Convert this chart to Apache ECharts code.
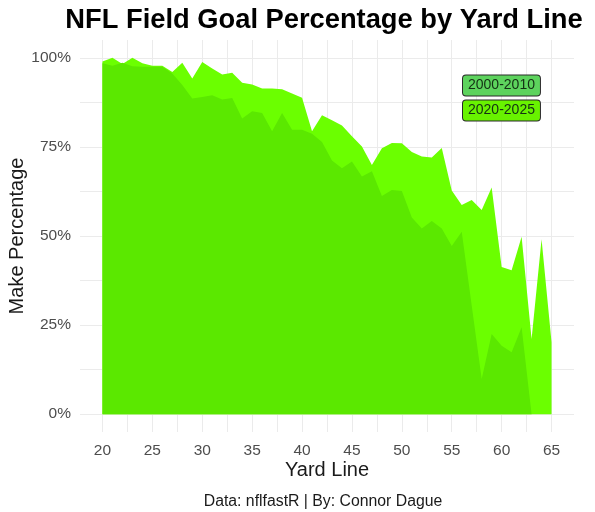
<!DOCTYPE html>
<html>
<head>
<meta charset="utf-8">
<script src="https://cdn.jsdelivr.net/npm/echarts@6/dist/echarts.min.js"></script>
<style>
html,body{margin:0;padding:0;background:#fff;}
#chart{width:595px;height:512px;}
</style>
</head>
<body>
<div id="chart"></div>
<script>
// Yard lines
const yards = [20,21,22,23,24,25,26,27,28,29,30,31,32,33,34,35,36,37,38,39,40,41,42,43,44,45,46,47,48,49,50,51,52,53,54,55,56,57,58,59,60,61,62,63,64,65];
// 2020-2025 make percentage
const pct2020 = [99,100,98.3,100,98.5,97.8,97.8,96,98.6,94.2,98.8,97,95.3,95.8,93,92.5,91.4,91.4,91.2,90,88.8,79.4,83.9,82.5,81,78,75.1,69.9,74.6,76.1,76,73.6,72.3,72,74.7,62.8,58.7,60.1,57.3,63.6,41.3,40.4,49.8,21.1,49.1,20.2];
// 2000-2010 make percentage (data ends at 63)
const pct2000 = [98.5,97.8,98.6,97.6,97.5,97.5,97.5,95.6,92.4,88.6,89,89.5,88.3,88.7,83,85,84.5,79.4,84.5,79.8,79.8,78.7,76.4,71.2,69,70.9,66.7,68.2,61.2,62.9,62.6,55.2,52.1,54.2,52.1,47.2,51.2,30.5,9.9,22.5,19.2,17.4,24.4,0];
const xTicks = [20,25,30,35,40,45,50,55,60,65];
const xGrid = [20,22.5,25,27.5,30,32.5,35,37.5,40,42.5,45,47.5,50,52.5,55,57.5,60,62.5,65];
const yTicks = [0,25,50,75,100];
const yGrid = [0,12.5,25,37.5,50,62.5,75,87.5,100];

const FONT = 'Liberation Sans, Arial, sans-serif';
const chart = echarts.init(document.getElementById('chart'), null, {renderer:'canvas'});

const toPairs = (xs, ys) => ys.map((v,i) => [xs[i], v]);

chart.setOption({
  animation: false,
  backgroundColor: '#ffffff',
  textStyle: {fontFamily: FONT},
  title: [
    {text: 'NFL Field Goal Percentage by Yard Line', left: 319, textAlign: 'center', top: 2,
     textStyle: {fontFamily: FONT, fontSize: 27.3, fontWeight: 'bold', color: '#000'}},
    {text: 'Data: nflfastR | By: Connor Dague', left: 318, textAlign: 'center', top: 489,
     textStyle: {fontFamily: FONT, fontSize: 15.8, fontWeight: 'normal', color: '#1a1a1a'}}
  ],
  legend: {
    orient: 'vertical', left: 458, top: 74.5, padding: 0, itemGap: 3,
    itemWidth: 0, itemHeight: 0, selectedMode: false,
    data: [
      {name: '2000-2010', textStyle: {fontFamily: FONT, fontSize: 14, color: '#143014', backgroundColor: '#5dd35d',
        borderColor: '#2a2a2a', borderWidth: 1, borderRadius: 3, padding: [3,5,2,5], lineHeight: 15}},
      {name: '2020-2025', textStyle: {fontFamily: FONT, fontSize: 14, color: '#143014', backgroundColor: '#68f200',
        borderColor: '#2a2a2a', borderWidth: 1, borderRadius: 3, padding: [3,5,2,5], lineHeight: 15}}
    ]
  },
  grid: {left: 80, right: 21, top: 40, bottom: 80, containLabel: false, outerBoundsMode: 'none'},
  xAxis: {
    type: 'value', min: 17.75, max: 67.25,
    name: 'Yard Line', nameLocation: 'middle', nameGap: 28, nameMoveOverlap: false,
    nameTextStyle: {fontFamily: FONT, fontSize: 20, color: '#1a1a1a'},
    axisLine: {show: false},
    axisTick: {show: false, customValues: xGrid},
    axisLabel: {customValues: xTicks, fontFamily: FONT, fontSize: 15.5, color: '#4d4d4d', margin: 11},
    splitLine: {show: true, lineStyle: {color: '#ebebeb', width: 1}}
  },
  yAxis: {
    type: 'value', min: -5, max: 105,
    name: 'Make Percentage', nameLocation: 'middle', nameGap: 53, nameMoveOverlap: false,
    nameTextStyle: {fontFamily: FONT, fontSize: 20, color: '#1a1a1a'},
    axisLine: {show: false},
    axisTick: {show: false, customValues: yGrid},
    axisLabel: {customValues: yTicks, fontFamily: FONT, fontSize: 15.5, color: '#4d4d4d', margin: 9,
      formatter: v => v + '%'},
    splitLine: {show: true, lineStyle: {color: '#ebebeb', width: 1}}
  },
  series: [
    {name: '2020-2025', type: 'line', data: toPairs(yards, pct2020), symbol: 'none',
     lineStyle: {width: 0}, itemStyle: {color: '#68f200'},
     areaStyle: {color: '#6bff00', opacity: 1}, z: 2},
    {name: '2000-2010', type: 'line', data: toPairs(yards, pct2000), symbol: 'none',
     lineStyle: {width: 0}, itemStyle: {color: '#5dd35d'},
     areaStyle: {color: '#5be800', opacity: 1}, z: 3}
  ]
});
</script>
</body>
</html>
